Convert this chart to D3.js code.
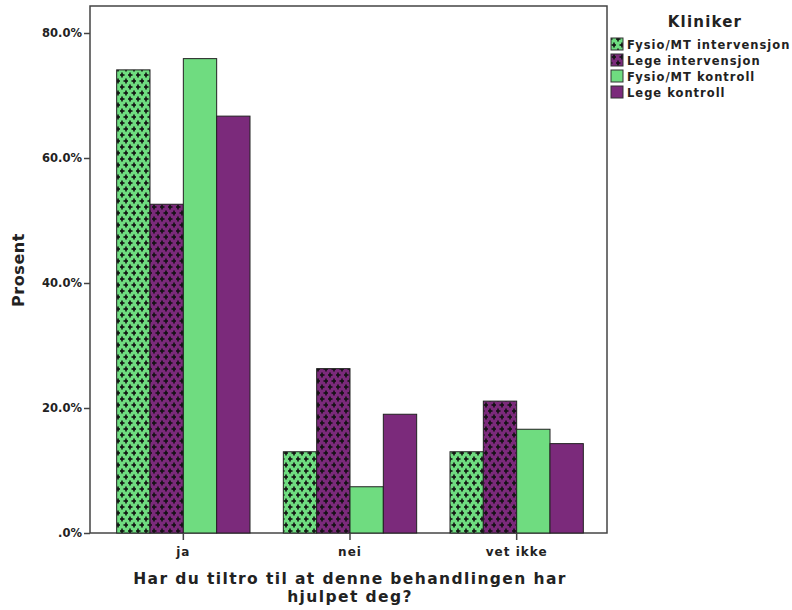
<!DOCTYPE html>
<html><head><meta charset="utf-8">
<script src="https://cdn.jsdelivr.net/npm/d3@7"></script>
<style>body{margin:0;background:#fff}svg{display:block}text{font-family:"DejaVu Sans",sans-serif;font-weight:bold;fill:#222}</style>
</head><body><svg id="c" width="792" height="610"></svg>
<script>
const categories = ["ja", "nei", "vet ikke"];
const seriesNames = ["Fysio/MT intervensjon", "Lege intervensjon", "Fysio/MT kontroll", "Lege kontroll"];
const fysioIntervensjon = [74.1, 13.0, 13.0];
const legeIntervensjon = [52.6, 26.3, 21.1];
const fysioKontroll = [75.9, 7.4, 16.6];
const legeKontroll = [66.7, 19.0, 14.3];
const yTicks = [0, 20, 40, 60, 80];
const seriesValues = [fysioIntervensjon, legeIntervensjon, fysioKontroll, legeKontroll];
const colors = ["#6fdc80", "#7b2a7b", "#6fdc80", "#7b2a7b"];
const patterned = [true, true, false, false];

const svg = d3.select("#c");
const defs = svg.append("defs");
["g", "p"].forEach((k, i) => {
  const pat = defs.append("pattern").attr("id", "pat" + k).attr("patternUnits", "userSpaceOnUse")
    .attr("width", 8).attr("height", 12);
  pat.append("rect").attr("width", 8).attr("height", 12).attr("fill", colors[i]);
  [[2, 3], [6, 9]].forEach(([cx, cy]) => {
    pat.append("rect").attr("x", cx - 2.5).attr("y", cy - 0.8).attr("width", 5).attr("height", 1.6).attr("fill", "#111");
    pat.append("rect").attr("x", cx - 0.8).attr("y", cy - 2.5).attr("width", 1.6).attr("height", 5).attr("fill", "#111");
  });
});
const fillFor = i => patterned[i] ? (i === 0 ? "url(#patg)" : "url(#patp)") : colors[i];

const pLeft = 90, pRight = 607, pTop = 6, pBottom = 533;
const y = d3.scaleLinear().domain([0, 80]).range([pBottom, 33]);
const x0 = d3.scaleBand().domain(categories).range([100, 600]).paddingInner(0).paddingOuter(0);
const x1 = d3.scaleBand().domain(d3.range(4)).range([0, x0.bandwidth()]).paddingOuter(0.5);

// frame
svg.append("rect").attr("x", pLeft).attr("y", pTop).attr("width", pRight - pLeft).attr("height", pBottom - pTop)
  .attr("fill", "none").attr("stroke", "#444").attr("stroke-width", 1.5);

// bars
categories.forEach((c, ci) => {
  seriesValues.forEach((vals, si) => {
    svg.append("rect")
      .attr("x", x0(c) + x1(si)).attr("y", y(vals[ci]))
      .attr("width", x1.bandwidth()).attr("height", pBottom - y(vals[ci]))
      .attr("fill", fillFor(si)).attr("stroke", "#222").attr("stroke-width", 1);
  });
});

// y axis
const yAxis = svg.append("g").attr("transform", `translate(${pLeft},0)`)
  .call(d3.axisLeft(y).tickValues(yTicks).tickSize(6).tickPadding(2)
    .tickFormat(d => d === 0 ? ".0%" : d3.format(".1f")(d) + "%"));
yAxis.select(".domain").remove();
yAxis.selectAll("line").attr("stroke", "#444").attr("stroke-width", 1.5);
yAxis.selectAll("text").attr("font-size", 11.5).attr("fill", "#222").style("font-family", "DejaVu Sans").style("font-weight", "bold");

// x axis
const xAxis = svg.append("g").attr("transform", `translate(0,${pBottom})`)
  .call(d3.axisBottom(x0).tickSize(7).tickPadding(7));
xAxis.select(".domain").remove();
xAxis.selectAll("line").attr("stroke", "#444").attr("stroke-width", 1.5);
xAxis.selectAll("text").attr("font-size", 12).attr("fill", "#222").attr("letter-spacing", 1)
  .style("font-family", "DejaVu Sans").style("font-weight", "bold");

// axis titles
svg.append("text").attr("transform", "translate(24,270) rotate(-90)").attr("text-anchor", "middle")
  .attr("font-size", 16).attr("letter-spacing", 0.6).text("Prosent");
svg.append("text").attr("x", 350).attr("y", 584).attr("text-anchor", "middle").attr("font-size", 15.5)
  .attr("letter-spacing", 1.4).text("Har du tiltro til at denne behandlingen har");
svg.append("text").attr("x", 350).attr("y", 602).attr("text-anchor", "middle").attr("font-size", 15.5)
  .attr("letter-spacing", 1.4).text("hjulpet deg?");

// legend
svg.append("text").attr("x", 705).attr("y", 27).attr("text-anchor", "middle").attr("font-size", 15)
  .attr("letter-spacing", 1.2).text("Kliniker");
seriesNames.forEach((n, i) => {
  const yy = 38 + i * 16;
  svg.append("rect").attr("x", 611).attr("y", yy).attr("width", 12).attr("height", 12)
    .attr("fill", fillFor(i)).attr("stroke", "#333").attr("stroke-width", 1);
  svg.append("text").attr("x", 627).attr("y", yy + 10.5).attr("font-size", 11.5)
    .attr("letter-spacing", 1).text(n);
});
</script></body></html>
